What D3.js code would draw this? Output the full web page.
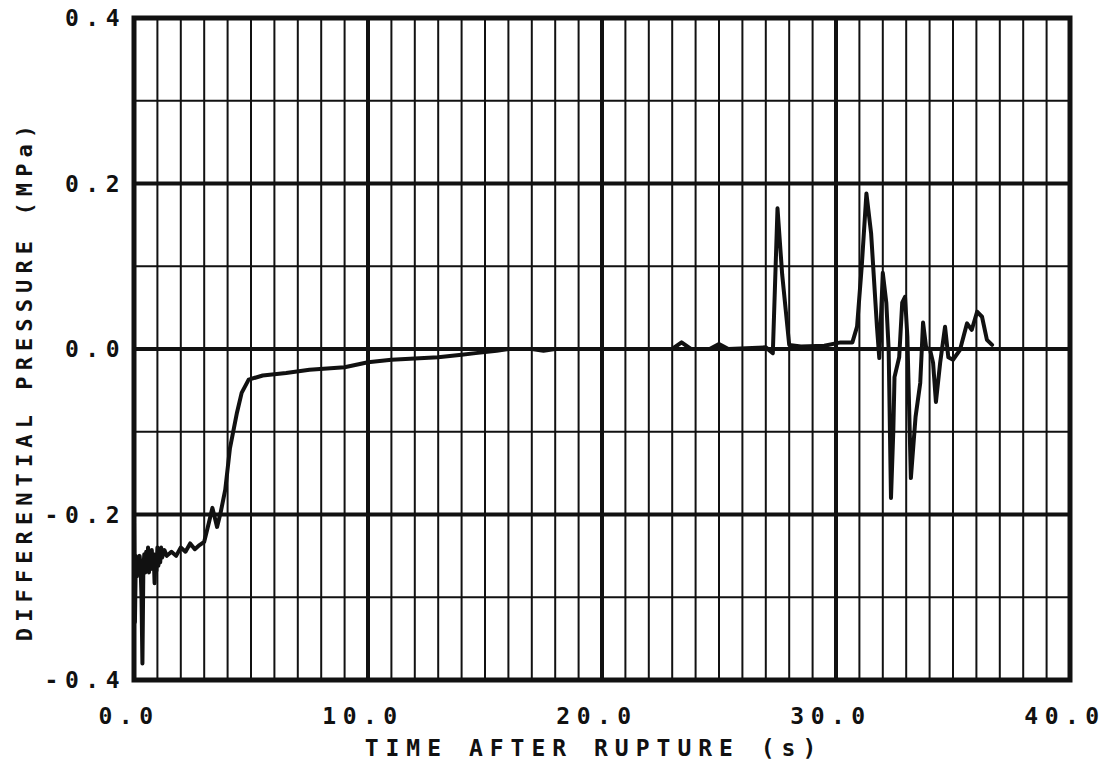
<!DOCTYPE html>
<html>
<head>
<meta charset="utf-8">
<script src="https://cdn.jsdelivr.net/npm/d3@7"></script>
<style>
  html, body { margin: 0; padding: 0; background: #fff; }
  svg { display: block; }
  text { font-family: "DejaVu Sans Mono", monospace; font-weight: bold; fill: #111; }
</style>
</head>
<body>
<svg id="chart" width="1114" height="761"></svg>
<script>
// ---- data ----
const xTickValues = [0, 10, 20, 30, 40];
const xTickLabels = ["0.0", "10.0", "20.0", "30.0", "40.0"];
const yTickValues = [-0.4, -0.2, 0.0, 0.2, 0.4];
const yTickLabels = ["-0.4", "-0.2", "0.0", "0.2", "0.4"];
const xTitle = "TIME AFTER RUPTURE (s)";
const yTitle = "DIFFERENTIAL PRESSURE (MPa)";

const time = [
  0.00, 0.04, 0.08, 0.12, 0.16, 0.20, 0.24, 0.28, 0.32, 0.36, 0.40, 0.44, 0.48, 0.52,
  0.56, 0.60, 0.64, 0.68, 0.72, 0.76, 0.80, 0.84, 0.88, 0.92, 0.96, 1.00, 1.04, 1.08,
  1.12, 1.16, 1.20, 1.30, 1.40, 1.60, 1.80,
  2.00, 2.20, 2.40, 2.60, 2.80, 3.00, 3.20, 3.35, 3.55, 3.70, 3.90, 4.10, 4.40, 4.60,
  4.90, 5.50, 6.50, 7.50, 9.00, 10.00, 11.00, 13.00, 14.00, 14.60, 15.50, 16.00, 17.00,
  17.50, 18.00, 20.00, 22.00, 23.00, 23.40, 23.80, 24.60, 25.00, 25.40, 27.00, 27.30,
  27.50, 27.70, 28.00, 28.50, 29.50, 30.20, 30.70, 30.90, 31.10, 31.30, 31.50, 31.75,
  31.85, 32.00, 32.15, 32.25, 32.35, 32.45, 32.50, 32.70, 32.83, 32.95, 33.05, 33.20,
  33.40, 33.60, 33.72, 33.85, 34.02, 34.15, 34.27, 34.45, 34.66, 34.80, 35.00, 35.30,
  35.60, 35.80, 36.03, 36.24, 36.45, 36.67
];
const pressure = [
  -0.205, -0.330, -0.250, -0.275, -0.255, -0.268, -0.250, -0.262, -0.300, -0.380, -0.265, -0.248, -0.270, -0.245,
  -0.262, -0.240, -0.270, -0.252, -0.266, -0.243, -0.262, -0.248, -0.283, -0.250, -0.268, -0.240, -0.262, -0.245,
  -0.258, -0.240, -0.252, -0.243, -0.250, -0.245, -0.250,
  -0.240, -0.245, -0.235, -0.242, -0.237, -0.233, -0.210, -0.192, -0.215, -0.198, -0.170, -0.120, -0.077, -0.053,
  -0.037, -0.032, -0.029, -0.025, -0.022, -0.016, -0.013, -0.010, -0.007, -0.005, -0.002, 0.000, 0.000,
  -0.002, 0.000, 0.000, 0.000, 0.000, 0.008, 0.000, 0.000, 0.006, 0.000, 0.002, -0.005,
  0.170, 0.090, 0.005, 0.003, 0.004, 0.008, 0.008, 0.027, 0.100, 0.188, 0.140, 0.027,
  -0.011, 0.092, 0.056, 0.000, -0.180, -0.098, -0.034, -0.010, 0.056, 0.063, 0.015, -0.156,
  -0.082, -0.041, 0.032, 0.002, -0.001, -0.017, -0.064, -0.017, 0.027, -0.010, -0.013, -0.001,
  0.031, 0.023, 0.045, 0.039, 0.011, 0.005
];

// ---- layout ----
const svg = d3.select("#chart");
const x = d3.scaleLinear().domain([0, 40]).range([134, 1070]);
const y = d3.scaleLinear().domain([-0.4, 0.4]).range([680, 18]);
const ink = "#111";

const grid = svg.append("g");
// minor vertical lines (every 1 s)
grid.selectAll("line.vminor").data(d3.range(1, 40).filter(v => v % 10 !== 0)).join("line")
  .attr("x1", d => x(d)).attr("x2", d => x(d))
  .attr("y1", y(0.4)).attr("y2", y(-0.4))
  .attr("stroke", ink).attr("stroke-width", 2);
// minor horizontal lines (every 0.1)
grid.selectAll("line.hminor").data([-0.3, -0.1, 0.1, 0.3]).join("line")
  .attr("x1", x(0)).attr("x2", x(40))
  .attr("y1", d => y(d)).attr("y2", d => y(d))
  .attr("stroke", ink).attr("stroke-width", 2);
// major vertical
grid.selectAll("line.vmajor").data([10, 20, 30]).join("line")
  .attr("x1", d => x(d)).attr("x2", d => x(d))
  .attr("y1", y(0.4)).attr("y2", y(-0.4))
  .attr("stroke", ink).attr("stroke-width", 4);
// major horizontal
grid.selectAll("line.hmajor").data([-0.2, 0, 0.2]).join("line")
  .attr("x1", x(0)).attr("x2", x(40))
  .attr("y1", d => y(d)).attr("y2", d => y(d))
  .attr("stroke", ink).attr("stroke-width", 4);
// frame
svg.append("rect")
  .attr("x", x(0)).attr("y", y(0.4))
  .attr("width", x(40) - x(0)).attr("height", y(-0.4) - y(0.4))
  .attr("fill", "none").attr("stroke", ink).attr("stroke-width", 5);

// ---- data line ----
const pts = time.map((t, i) => [t, pressure[i]]);
svg.append("path")
  .datum(pts)
  .attr("fill", "none").attr("stroke", ink).attr("stroke-width", 4)
  .attr("stroke-linejoin", "round").attr("stroke-linecap", "round")
  .attr("d", d3.line().x(d => x(d[0])).y(d => y(d[1])));

// ---- tick labels ----
svg.append("g").selectAll("text").data(xTickValues).join("text")
  .attr("x", d => x(d) - 5).attr("y", 724)
  .attr("text-anchor", "middle")
  .style("font-size", "23px").style("letter-spacing", "6.5px")
  .text((d, i) => xTickLabels[i]);

svg.append("g").selectAll("text").data(yTickValues).join("text")
  .attr("x", 126).attr("y", d => y(d) + 8)
  .attr("text-anchor", "end")
  .style("font-size", "23px").style("letter-spacing", "6.5px")
  .text((d, i) => yTickLabels[i]);

// ---- axis titles ----
svg.append("text")
  .attr("x", 594).attr("y", 756)
  .attr("text-anchor", "middle")
  .style("font-size", "23px").style("letter-spacing", "7px")
  .text(xTitle);

svg.append("text")
  .attr("transform", "translate(32,380) rotate(-90)")
  .attr("text-anchor", "middle")
  .style("font-size", "22px").style("letter-spacing", "6.1px")
  .text(yTitle);
</script>
</body>
</html>
